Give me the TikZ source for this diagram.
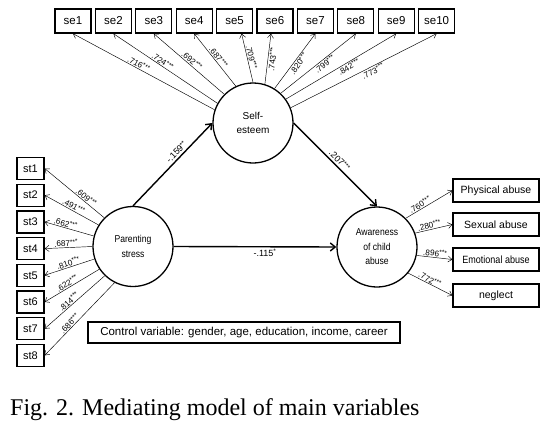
\documentclass[tikz,border=0pt]{standalone}
\usepackage{fontspec}
\setmainfont{Liberation Sans}
\newfontfamily\capfont{Liberation Serif}
\usepackage{graphicx}
\usetikzlibrary{arrows.meta}
\newcommand{\cnd}[1]{\scalebox{0.86}[1]{#1}}
\newcommand{\stars}[1]{\raisebox{2.2pt}{\fontsize{6.5}{6.5}\selectfont #1}}
\newcommand{\ld}[1]{#1\stars{***}}
\begin{document}
\begin{tikzpicture}[x=1pt,y=-1pt,
  sebox/.style={draw, line width=1.3pt, minimum width=36pt, minimum height=24pt, inner sep=0pt, font=\fontsize{11.5}{13}\selectfont},
  stbox/.style={draw, line width=1.3pt, minimum width=27pt, minimum height=22pt, inner sep=0pt, font=\fontsize{11}{13}\selectfont},
  rbox/.style={draw, line width=1.3pt, minimum width=86pt, minimum height=23pt, inner sep=0pt, font=\fontsize{10.5}{12}\selectfont},
  latent/.style={circle, draw, line width=1.3pt, minimum size=80pt, inner sep=0pt, align=center, font=\fontsize{10}{14.5}\selectfont},
  load/.style={line width=0.45pt, -{Straight Barb[length=4pt,width=6pt]}},
  mainarr/.style={line width=1.4pt, -{Straight Barb[length=5pt,width=8pt]}},
  lab/.style={font=\fontsize{8.2}{9}\selectfont, inner sep=0.8pt, sloped},
  plab/.style={font=\fontsize{9}{10}\selectfont, inner sep=2pt, sloped},
  ctrl/.style={draw, line width=1.2pt, minimum width=312pt, minimum height=21pt, inner sep=0pt, font=\fontsize{11.5}{13}\selectfont}
]
\useasboundingbox (0,0) rectangle (558,426);

% latent variables
\node[latent] (SE) at (253,123) {Self-\\esteem};
\node[latent] (PS) at (133,246.5) {\cnd{Parenting}\\\cnd{stress}};
\node[latent] (AW) at (377,247) {\cnd{Awareness}\\\cnd{of child}\\\cnd{abuse}};

% indicators
\foreach \i in {1,...,10} \node[sebox] (se\i) at ({73+40.4*(\i-1)},21) {se\i};
\foreach \i in {1,...,8} \node[stbox] (st\i) at (30.5,{168.5+26.7*(\i-1)}) {st\i};
\node[rbox] (pa) at (496,190.5) {Physical abuse};
\node[rbox] (sa) at (496,224.5) {Sexual abuse};
\node[rbox] (ea) at (496,259.5) {\cnd{Emotional abuse}};
\node[rbox] (ne) at (496,295.5) {neglect};

% self-esteem loadings
\draw[load] (SE.161) -- node[lab, above, pos=.55] {\ld{.716}} (se1.south);
\draw[load] (SE.151) -- node[lab, above, pos=.55] {\ld{.724}} (se2.south);
\draw[load] (SE.135) -- node[lab, above, pos=.5] {\ld{.692}} (se3.south);
\draw[load] (SE.115) -- node[lab, above, pos=.5] {\ld{.687}} (se4.south);
\draw[load] (SE.90) -- node[lab, above, pos=.5] {\ld{.709}} ([xshift=7pt]se5.south);
\draw[load] (SE.73) -- node[lab, below, pos=.5] {\ld{.743}} ([xshift=-4pt]se6.south);
\draw[load] (SE.58) -- node[lab, below, pos=.5] {\ld{.820}} (se7.south);
\draw[load] (SE.47) -- node[lab, below, pos=.55] {\ld{.799}} (se8.south);
\draw[load] (SE.36) -- node[lab, below, pos=.55] {\ld{.842}} (se9.south);
\draw[load] (SE.22) -- node[lab, below, pos=.55] {\ld{.773}} (se10.south);

% parenting stress loadings
\draw[load] (PS.135) -- node[lab, above, pos=.35] {\ld{.609}} (st1.east);
\draw[load] (PS.148) -- node[lab, above, pos=.5] {\ld{.491}} (st2.east);
\draw[load] (PS.165) -- node[lab, above, pos=.6] {\ld{.662}} (st3.east);
\draw[load] (PS.180) -- node[lab, above, pos=.55] {\ld{.687}} (st4.east);
\draw[load] (PS.198) -- node[lab, above, pos=.5] {\ld{.810}} (st5.east);
\draw[load] (PS.214) -- node[lab, above, pos=.55] {\ld{.622}} (st6.east);
\draw[load] (PS.226) -- node[lab, above, pos=.55] {\ld{.814}} (st7.east);
\draw[load] (PS.243) -- node[lab, above, pos=.6] {\ld{.686}} (st8.east);

% awareness loadings
\draw[load] (AW.45) -- node[lab, above, pos=.35] {\ld{.760}} (pa.west);
\draw[load] (AW.20) -- node[lab, above, pos=.4] {\ld{.280}} (sa.west);
\draw[load] (AW.-12) -- node[lab, above, pos=.5] {\ld{.896}} (ea.west);
\draw[load] (AW.-40) -- node[lab, above, pos=.45] {\ld{.772}} (ne.west);

% structural paths
\draw[mainarr] (PS.north) -- node[plab, above, pos=.6] {-.159\stars{**}} (SE.west);
\draw[mainarr] (SE.east) -- node[plab, above, pos=.5] {.207\stars{***}} (AW.north);
\draw[mainarr] (PS.east) -- node[plab, below, pos=.56] {-.115\stars{*}} (AW.west);

% control variables
\node[ctrl] (ctrl) at (244,332.5) {Control variable: gender, age, education, income, career};

% caption
\node[font=\capfont\fontsize{24}{26}\selectfont, anchor=base west, inner sep=0pt] (cap) at (10,415.5) {Fig. 2. Mediating model of main variables};
\end{tikzpicture}
\end{document}
